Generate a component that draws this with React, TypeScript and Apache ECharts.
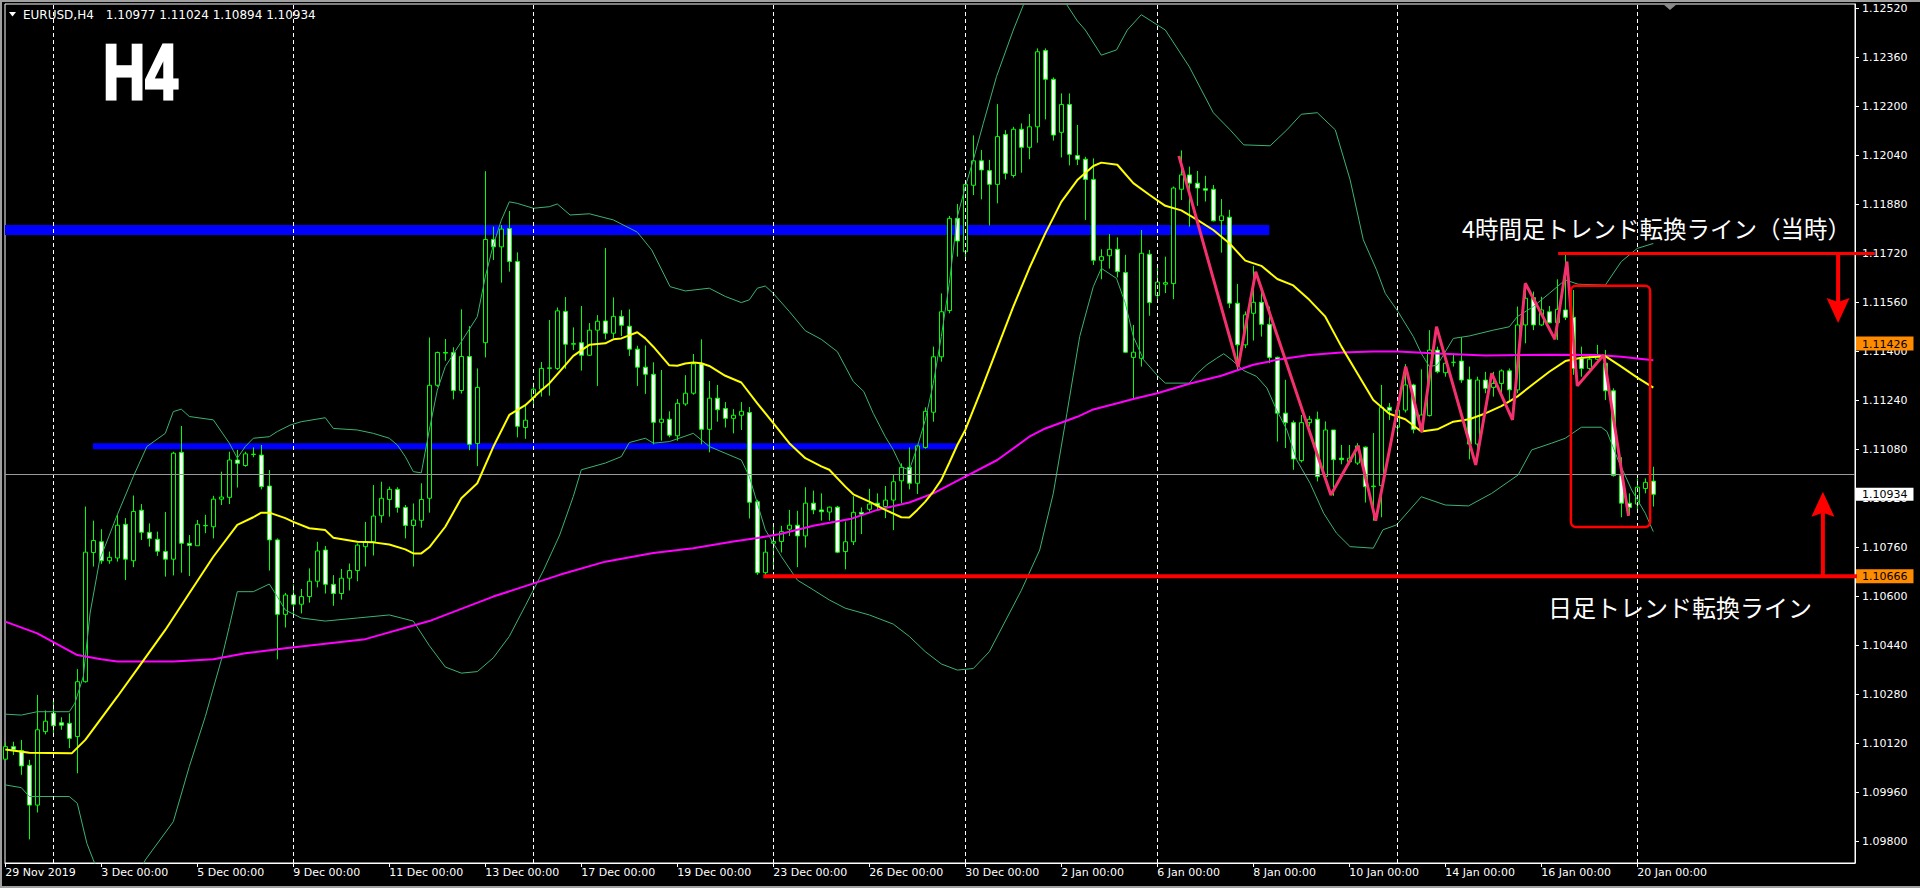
import { useEffect, useRef } from "react";
import * as echarts from "echarts";

// ---------- data ----------
const symbolName = "EURUSD,H4";
const periodTitle = "H4";

const opens = [
  1.10069,1.10110,1.10097,1.10049,1.09919,1.10159,1.10219,1.10188,1.10186,1.10143,
  1.10322,1.10744,1.10779,1.10717,1.10726,1.10836,1.10717,1.10882,1.10810,1.10787,
  1.10747,1.10722,1.11071,1.10774,1.10766,1.10831,1.10828,1.10918,1.10924,1.11046,
  1.11028,1.11064,1.11062,1.10961,1.10785,1.10542,1.10605,1.10575,1.10600,1.10650,
  1.10752,1.10640,1.10610,1.10660,1.10685,1.10763,1.10779,1.10864,1.10917,1.10950,
  1.10891,1.10832,1.10849,1.10921,1.11290,1.11397,1.11397,1.11273,1.11384,1.11100,
  1.11429,1.11766,1.11742,1.11802,1.11694,1.11152,1.11250,1.11277,1.11345,1.11345,
  1.11531,1.11424,1.11429,1.11388,1.11470,1.11500,1.11460,1.11515,1.11483,1.11408,
  1.11349,1.11326,1.11169,1.11179,1.11125,1.11229,1.11264,1.11360,1.11146,1.11248,
  1.11214,1.11182,1.11192,1.11201,1.10910,1.10678,1.10774,1.10780,1.10820,1.10833,
  1.10798,1.10905,1.10883,1.10876,1.10892,1.10747,1.10779,1.10875,1.10885,1.10905,
  1.10894,1.10915,1.10978,1.11022,1.10970,1.11087,1.11202,1.11383,1.11534,1.11835,
  1.11726,1.11943,1.12023,1.11991,1.11946,1.12109,1.11975,1.12126,1.12067,1.12134,
  1.12383,1.12289,1.12116,1.12207,1.12040,1.12028,1.11962,1.11698,1.11713,1.11734,
  1.11658,1.11381,1.11378,1.11718,1.11583,1.11620,1.11622,1.11930,1.11977,1.11950,
  1.11932,1.11930,1.11828,1.11839,1.11558,1.11422,1.11525,1.11561,1.11489,1.11381,
  1.11199,1.11168,1.11044,1.11168,1.11179,1.10992,1.11144,1.11052,1.11040,1.11036,
  1.11088,1.10959,1.10962,1.11218,1.11153,1.11209,1.11291,1.11144,1.11191,1.11405,
  1.11331,1.11365,1.11369,1.11309,1.11098,1.11307,1.11283,1.11296,1.11337,1.11275,
  1.11487,1.11576,1.11487,1.11530,1.11494,1.11536,1.11512,1.11378,1.11345,1.11375,
  1.11362,1.11272,1.10995,1.10905,1.10902,1.10953,1.10977,
];
const highs = [
  1.10123,1.10126,1.10132,1.10067,1.10279,1.10228,1.10257,1.10206,1.10219,1.10363,
  1.10894,1.10848,1.10820,1.10747,1.10867,1.10856,1.10930,1.10902,1.10839,1.10812,
  1.10876,1.11073,1.11157,1.10801,1.10850,1.10867,1.10929,1.11008,1.11073,1.11079,
  1.11073,1.11087,1.11095,1.11013,1.10790,1.10612,1.10640,1.10625,1.10692,1.10779,
  1.10765,1.10670,1.10690,1.10708,1.10774,1.10844,1.10964,1.10975,1.10959,1.10957,
  1.10899,1.10904,1.10970,1.11446,1.11400,1.11441,1.11414,1.11538,1.11483,1.11345,
  1.11989,1.11808,1.11813,1.11859,1.11724,1.11225,1.11299,1.11366,1.11503,1.11544,
  1.11578,1.11479,1.11549,1.11493,1.11519,1.11738,1.11577,1.11535,1.11538,1.11419,
  1.11420,1.11365,1.11340,1.11205,1.11245,1.11323,1.11392,1.11440,1.11304,1.11291,
  1.11235,1.11212,1.11235,1.11219,1.10916,1.10785,1.10831,1.10831,1.10883,1.10880,
  1.10957,1.10946,1.10937,1.10894,1.10896,1.10845,1.10928,1.10891,1.10952,1.10937,
  1.10961,1.10997,1.11035,1.11087,1.11095,1.11218,1.11416,1.11590,1.11843,1.11882,
  1.11955,1.12106,1.12058,1.12026,1.12208,1.12123,1.12134,1.12145,1.12176,1.12390,
  1.12390,1.12295,1.12243,1.12243,1.12140,1.12036,1.12031,1.11734,1.11784,1.11773,
  1.11716,1.11487,1.11797,1.11732,1.11686,1.11710,1.11939,1.12057,1.12004,1.11990,
  1.11974,1.11944,1.11898,1.11863,1.11621,1.11531,1.11680,1.11602,1.11547,1.11384,
  1.11308,1.11175,1.11193,1.11190,1.11204,1.11172,1.11144,1.11095,1.11095,1.11101,
  1.11090,1.11134,1.11291,1.11232,1.11231,1.11359,1.11295,1.11342,1.11470,1.11416,
  1.11394,1.11389,1.11447,1.11351,1.11318,1.11334,1.11334,1.11342,1.11345,1.11547,
  1.11623,1.11596,1.11579,1.11549,1.11636,1.11721,1.11601,1.11416,1.11389,1.11422,
  1.11405,1.11280,1.11055,1.10937,1.10986,1.10986,1.11024,
];
const lows = [
  1.10067,1.10083,1.10018,1.09807,1.09895,1.10150,1.10148,1.10165,1.10105,1.10023,
  1.10319,1.10698,1.10707,1.10707,1.10714,1.10654,1.10696,1.10785,1.10763,1.10733,
  1.10665,1.10669,1.10678,1.10667,1.10766,1.10807,1.10790,1.10899,1.10902,1.10956,
  1.11024,1.11055,1.10950,1.10685,1.10395,1.10499,1.10540,1.10545,1.10580,1.10630,
  1.10610,1.10570,1.10590,1.10620,1.10650,1.10698,1.10734,1.10841,1.10861,1.10874,
  1.10790,1.10698,1.10825,1.10874,1.11285,1.11370,1.11244,1.11263,1.11078,1.11026,
  1.11381,1.11699,1.11625,1.11661,1.11120,1.11115,1.11218,1.11253,1.11256,1.11340,
  1.11344,1.11405,1.11338,1.11386,1.11288,1.11440,1.11444,1.11451,1.11386,1.11288,
  1.11262,1.11097,1.11109,1.11120,1.11109,1.11223,1.11259,1.11097,1.11071,1.11171,
  1.11152,1.11133,1.11144,1.10855,1.10671,1.10666,1.10687,1.10744,1.10798,1.10696,
  1.10760,1.10869,1.10848,1.10848,1.10742,1.10689,1.10768,1.10804,1.10877,1.10883,
  1.10856,1.10817,1.10905,1.10950,1.10935,1.11083,1.11171,1.11367,1.11525,1.11710,
  1.11704,1.11911,1.11897,1.11812,1.11884,1.11962,1.11968,1.11984,1.12028,1.12082,
  1.12158,1.12089,1.12034,1.12008,1.12009,1.11830,1.11683,1.11636,1.11671,1.11642,
  1.11396,1.11248,1.11351,1.11517,1.11569,1.11591,1.11571,1.11895,1.11808,1.11876,
  1.11890,1.11825,1.11723,1.11542,1.11338,1.11411,1.11436,1.11449,1.11362,1.11106,
  1.11085,1.11014,1.11038,1.11155,1.10976,1.10981,1.10929,1.11032,1.11032,1.11030,
  1.10907,1.10848,1.10859,1.11177,1.11120,1.11201,1.11133,1.11139,1.11188,1.11329,
  1.11318,1.11351,1.11298,1.11048,1.11046,1.11264,1.11253,1.11264,1.11242,1.11264,
  1.11427,1.11470,1.11484,1.11492,1.11438,1.11503,1.11324,1.11318,1.11340,1.11367,
  1.11242,1.10992,1.10859,1.10866,1.10885,1.10937,1.10894,
];
const closes = [
  1.10110,1.10101,1.10047,1.09919,1.10165,1.10193,1.10178,1.10180,1.10137,1.10322,
  1.10745,1.10783,1.10717,1.10728,1.10833,1.10722,1.10878,1.10810,1.10790,1.10748,
  1.10722,1.11068,1.10774,1.10767,1.10836,1.10832,1.10918,1.10925,1.11046,1.11035,
  1.11066,1.11065,1.10959,1.10785,1.10542,1.10605,1.10575,1.10600,1.10650,1.10749,
  1.10640,1.10610,1.10660,1.10685,1.10768,1.10779,1.10863,1.10921,1.10950,1.10891,
  1.10832,1.10850,1.10917,1.11290,1.11397,1.11395,1.11273,1.11384,1.11097,1.11283,
  1.11766,1.11742,1.11800,1.11694,1.11156,1.11176,1.11277,1.11345,1.11347,1.11533,
  1.11424,1.11426,1.11388,1.11470,1.11499,1.11460,1.11515,1.11486,1.11408,1.11349,
  1.11326,1.11169,1.11179,1.11127,1.11231,1.11264,1.11360,1.11146,1.11248,1.11210,
  1.11182,1.11192,1.11205,1.10908,1.10678,1.10745,1.10780,1.10812,1.10833,1.10798,
  1.10905,1.10883,1.10877,1.10892,1.10745,1.10779,1.10875,1.10869,1.10902,1.10896,
  1.10915,1.10975,1.11022,1.10970,1.11092,1.11205,1.11383,1.11530,1.11835,1.11761,
  1.11946,1.12023,1.11993,1.11946,1.12102,1.11982,1.12126,1.12067,1.12134,1.12379,
  1.12289,1.12107,1.12207,1.12044,1.12028,1.11962,1.11698,1.11710,1.11734,1.11661,
  1.11398,1.11398,1.11721,1.11560,1.11627,1.11625,1.11934,1.11977,1.11950,1.11934,
  1.11927,1.11827,1.11843,1.11558,1.11422,1.11520,1.11561,1.11489,1.11381,1.11199,
  1.11168,1.11049,1.11168,1.11179,1.10992,1.11144,1.11047,1.11047,1.11052,1.11092,
  1.10959,1.10961,1.11218,1.11208,1.11209,1.11291,1.11146,1.11193,1.11405,1.11334,
  1.11362,1.11365,1.11307,1.11098,1.11307,1.11280,1.11296,1.11337,1.11275,1.11487,
  1.11574,1.11487,1.11536,1.11494,1.11538,1.11512,1.11345,1.11345,1.11375,1.11383,
  1.11272,1.10995,1.10905,1.10891,1.10957,1.10973,1.10934,
];

// Bollinger bands and moving averages: [bar index, price]
const upperBand = [
  [0,1.10216],[2,1.10213],[4,1.10224],[8,1.10224],[8.7,1.10252],[9.75,1.10339],[10.6,1.10546],[11.8,1.10720],
  [14,1.10867],[16,1.10992],[17.7,1.11090],[20,1.11133],[21,1.11204],[22,1.11212],[23,1.11188],[26,1.11177],
  [28,1.11101],[29,1.11052],[30,1.11090],[31,1.11117],[33,1.11122],[34,1.11139],[35.6,1.11160],[37,1.11171],
  [40,1.11184],[41,1.11149],[44,1.11144],[46,1.11133],[48,1.11117],[49,1.11095],[50,1.11057],[51,1.11008],
  [52,1.11004],[53,1.11144],[54,1.11274],[55,1.11351],[57,1.11432],[59,1.11514],[60,1.11644],[61,1.11748],
  [62,1.11829],[63,1.11889],[64,1.11884],[66,1.11868],[68,1.11873],[69,1.11882],[70.6,1.11846],[73,1.11850],
  [76,1.11830],[79,1.11790],[80.8,1.11732],[83.1,1.11612],[85,1.11598],[88,1.11607],[90,1.11580],[92,1.11560],
  [93,1.11569],[94,1.11607],[95,1.11614],[96,1.11590],[98,1.11531],[100,1.11468],[102,1.11440],[104,1.11400],
  [106,1.11302],[107.3,1.11270],[108.5,1.11198],[110,1.11122],[111,1.11079],[112,1.11024],[113,1.11013],
  [114,1.11089],[115,1.11177],[116,1.11296],[117,1.11449],[118,1.11623],[119,1.11840],[120,1.11938],
  [121,1.12026],[122.25,1.12145],[123.9,1.12298],[126,1.12450],[128,1.12580],[130,1.12620],[132,1.12560],
  [134,1.12480],[135,1.12450],[137,1.12368],[138.9,1.12385],[140.25,1.12450],[142,1.12500],[145,1.12450],
  [148,1.12330],[151,1.12180],[153.1,1.12124],[154.8,1.12075],[158.1,1.12072],[160.2,1.12124],[162,1.12175],
  [164,1.12180],[166.25,1.12124],[168.1,1.11961],[169.75,1.11765],[171.4,1.11667],[172.5,1.11590],
  [174.1,1.11530],[176,1.11449],[177,1.11394],[178,1.11351],[179,1.11356],[181,1.11443],[183,1.11451],
  [186,1.11470],[188,1.11481],[189,1.11514],[191,1.11547],[193,1.11590],[195,1.11634],[196.6,1.11620],
  [200,1.11617],[202,1.11694],[204,1.11737],[206,1.11753],
];
const lowerBand = [
  [0,1.09985],[2,1.09976],[3,1.09947],[8,1.09947],[9,1.09925],[10.2,1.09794],[11,1.09740],[12.5,1.09650],
  [14.5,1.09630],[16.5,1.09680],[17.5,1.09740],[21,1.09865],[23,1.10045],[25,1.10208],[27,1.10393],
  [28,1.10502],[29,1.10616],[31,1.10616],[33,1.10641],[34,1.10600],[35,1.10556],[37,1.10530],[40,1.10520],
  [44,1.10530],[48,1.10540],[51,1.10520],[53,1.10440],[55,1.10370],[57,1.10350],[59,1.10355],[61,1.10400],
  [63,1.10470],[65,1.10570],[67.3,1.10687],[69.3,1.10801],[71,1.10927],[72,1.11014],[75,1.11036],
  [77,1.11057],[78,1.11103],[80,1.11117],[81,1.11101],[83,1.11106],[86,1.11133],[88,1.11090],[92,1.11046],
  [93,1.10992],[95,1.10818],[97,1.10731],[99,1.10654],[101,1.10622],[103,1.10589],[105,1.10562],
  [108,1.10540],[111,1.10510],[113,1.10470],[115,1.10420],[117,1.10380],[119,1.10360],[121,1.10365],
  [123,1.10420],[125,1.10520],[127,1.10620],[129.3,1.10752],[131,1.10937],[132.7,1.11198],[134.3,1.11449],
  [135.2,1.11536],[136,1.11612],[137,1.11672],[138.9,1.11639],[140,1.11558],[141,1.11449],[142.3,1.11373],
  [144.1,1.11319],[145,1.11297],[148,1.11297],[149,1.11329],[150.2,1.11357],[151.4,1.11378],[152.3,1.11393],
  [153.3,1.11373],[154.8,1.11338],[156.4,1.11319],[157.7,1.11281],[158.9,1.11210],[160.2,1.11144],
  [161.4,1.11047],[163.1,1.10970],[164.8,1.10872],[166.4,1.10807],[168.1,1.10763],[171,1.10758],
  [172.2,1.10818],[173.9,1.10834],[177,1.10926],[180,1.10899],[182.9,1.10896],[185.8,1.10937],
  [189.1,1.10997],[190.8,1.11079],[193.3,1.11101],[195,1.11117],[197,1.11153],[199.5,1.11153],
  [200.2,1.11139],[201.6,1.11046],[203.3,1.10948],[205,1.10872],[206,1.10812],
];
const middleMA = [
  [0,1.10101],[3,1.10090],[8.3,1.10088],[10,1.10132],[14,1.10273],[17,1.10382],[20,1.10491],[23,1.10611],
  [26,1.10730],[29,1.10834],[31,1.10859],[32,1.10874],[33,1.10874],[35,1.10856],[36,1.10844],[38,1.10823],
  [40,1.10817],[41,1.10792],[44,1.10779],[46,1.10777],[48,1.10770],[50,1.10754],[51,1.10741],[52,1.10741],
  [53,1.10761],[55,1.10828],[57,1.10921],[59,1.10970],[61,1.11089],[63,1.11193],[65,1.11225],[67,1.11274],
  [68,1.11296],[70,1.11356],[71,1.11386],[73,1.11422],[75,1.11427],[76,1.11440],[77,1.11443],[79,1.11463],
  [80,1.11443],[81,1.11416],[83,1.11355],[84,1.11354],[85,1.11361],[86,1.11364],[87,1.11362],[88,1.11353],
  [90,1.11321],[92,1.11299],[94,1.11231],[96,1.11166],[98,1.11101],[100,1.11052],[102,1.11025],[103,1.11014],
  [105,1.10959],[106,1.10934],[108,1.10910],[110,1.10883],[112,1.10859],[113,1.10858],[114,1.10883],
  [115,1.10910],[116,1.10943],[117,1.10981],[118,1.11037],[119,1.11095],[120,1.11144],[122,1.11275],
  [124,1.11411],[126,1.11547],[128,1.11672],[130,1.11786],[132,1.11889],[134,1.11960],[136,1.12006],
  [137,1.12017],[139,1.12010],[141,1.11950],[143,1.11912],[145,1.11876],[147,1.11861],[149,1.11830],
  [151,1.11797],[153,1.11754],[155,1.11697],[157,1.11680],[159,1.11637],[161,1.11616],[163,1.11569],
  [165,1.11514],[167,1.11417],[169,1.11329],[171,1.11242],[173,1.11197],[175,1.11179],[177,1.11139],
  [179,1.11146],[181,1.11171],[183,1.11179],[185,1.11198],[187,1.11222],[189,1.11253],[191,1.11294],
  [193,1.11334],[195,1.11369],[197,1.11380],[199,1.11383],[200,1.11385],[202,1.11351],[204,1.11315],
  [206,1.11282],
];
const longMA = [
  [0,1.10518],[4,1.10480],[9,1.10409],[12,1.10395],[14,1.10388],[21,1.10388],[26,1.10395],[30,1.10415],
  [35,1.10431],[45,1.10461],[53,1.10520],[61,1.10600],[69.3,1.10671],[75,1.10714],[81,1.10742],[86,1.10758],
  [91,1.10780],[94,1.10791],[97,1.10805],[101,1.10831],[105.6,1.10853],[109,1.10883],[113,1.10907],
  [116,1.10937],[120,1.10992],[124,1.11046],[128,1.11122],[130,1.11149],[134,1.11187],[136,1.11211],
  [139,1.11231],[141,1.11245],[144,1.11264],[148,1.11295],[152,1.11321],[156,1.11357],[159,1.11373],
  [163,1.11389],[167,1.11397],[171,1.11400],[174,1.11400],[179,1.11394],[185,1.11387],[193,1.11390],
  [199,1.11389],[202,1.11383],[206,1.11372],
];
const zigzag = [
  [146.7,1.12039],[154.1,1.11349],[156.3,1.11661],[165.7,1.10932],[169.1,1.11092],[171.3,1.10848],
  [175.05,1.11351],[177.05,1.11138],[178.9,1.11481],[183.8,1.11030],[185.8,1.11329],[188.4,1.11177],
  [190,1.11623],[193.7,1.11440],[195.2,1.11694],[196.5,1.11288],[199.8,1.11389],[202.9,1.10863],
];

// horizontal zones / levels
const upperBlueLine = [[-0.0375, 1.11797], [158, 1.11797]];
const lowerBlueLine = [[10.96, 1.11091], [119, 1.11091]];
const dailyTrendLine = [[94.75, 1.10666], [231.5, 1.10666]];
const h4TrendLine = [[194.1, 1.1172], [233.7, 1.1172]];
const focusBox = [[195.7, 1.11615, 205.6, 1.10827]];
const arrows = [
  [229.1, 1.1172, 1.11493],
  [227.2, 1.10666, 1.10942],
];
const orangeLevels = [1.11426, 1.10666];
const bidLevel = 1.10934;
const priceBoxes = [1.11426, 1.10666, 1.10934];

// axes
const priceTicks = [
  1.098, 1.0996, 1.1012, 1.1028, 1.1044, 1.106, 1.1076, 1.1092, 1.1108,
  1.1124, 1.114, 1.1156, 1.1172, 1.1188, 1.1204, 1.122, 1.1236, 1.1252,
];
const timeTickIndex = [0, 12, 24, 36, 48, 60, 72, 84, 96, 108, 120, 132, 144, 156, 168, 180, 192, 204];
const timeTickLabels = [
  "29 Nov 2019", "3 Dec 00:00", "5 Dec 00:00", "9 Dec 00:00", "11 Dec 00:00", "13 Dec 00:00",
  "17 Dec 00:00", "19 Dec 00:00", "23 Dec 00:00", "26 Dec 00:00", "30 Dec 00:00", "2 Jan 00:00",
  "6 Jan 00:00", "8 Jan 00:00", "10 Jan 00:00", "14 Jan 00:00", "16 Jan 00:00", "20 Jan 00:00",
];
const weekStartIndex = [6, 36, 66, 96, 120, 144, 174, 204];

const h4LineLabel = "4時間足トレンド転換ライン（当時）";
const dailyLineLabel = "日足トレンド転換ライン";

// ---------- component ----------
export default function App() {
  const ref = useRef<HTMLDivElement>(null);

  useEffect(() => {
    if (!ref.current) return;
    const chart = echarts.init(ref.current, null, { renderer: "svg" });

    const candleData = opens.map((o, i) => [i, o, closes[i], lows[i], highs[i]]);
    const last = opens.length - 1;
    const header = `${symbolName}\u2002\u2002${opens[last].toFixed(5)} ${highs[last].toFixed(5)} ${lows[last].toFixed(5)} ${closes[last].toFixed(5)}`;

    const yMin = 1.0973;
    const yMax = 1.12535;
    const font = "DejaVu Sans";

    const lineBase = (data: number[][], color: string, width: number, z: number, extra: any = {}) => ({
      type: "line",
      data,
      symbol: "none",
      showSymbol: false,
      silent: true,
      z,
      lineStyle: { color, width },
      emphasis: { disabled: true },
      ...extra,
    });

    const segmentSeries = (seg: number[][], color: string, width: number, z: number) => ({
      type: "custom",
      data: [[seg[0][0], seg[0][1], seg[1][0], seg[1][1]]],
      encode: { x: [0, 2], y: [1, 3] },
      clip: false,
      silent: true,
      z,
      renderItem: (_p: any, api: any) => {
        const a = api.coord([api.value(0), api.value(1)]);
        const b = api.coord([api.value(2), api.value(3)]);
        return {
          type: "line",
          shape: { x1: a[0], y1: a[1], x2: b[0], y2: b[1] },
          style: { stroke: color, lineWidth: width },
        };
      },
    });

    const option: any = {
      animation: false,
      backgroundColor: "#000",
      grid: {
        left: 5, top: 4, width: 1850, height: 859,
        show: true, borderColor: "#fff", borderWidth: 1, backgroundColor: "#000",
      },
      xAxis: [{
        type: "value",
        min: -0.0375,
        max: 231.2125,
        axisLine: { show: true, onZero: false, lineStyle: { color: "#fff", width: 1 } },
        axisTick: { show: true, customValues: timeTickIndex, length: 4, lineStyle: { color: "#fff" } },
        axisLabel: {
          show: true,
          customValues: timeTickIndex,
          formatter: (v: number) => {
            const k = timeTickIndex.indexOf(Math.round(v));
            return k >= 0 ? timeTickLabels[k] : "";
          },
          color: "#fff", fontFamily: font, fontSize: 11, margin: 4, align: "left",
        },
        splitLine: { show: false },
      }],
      yAxis: [
        {
          type: "value",
          position: "right",
          min: yMin,
          max: yMax,
          axisLine: { show: true, onZero: false, lineStyle: { color: "#fff" } },
          axisTick: { show: true, customValues: priceTicks, length: 4, lineStyle: { color: "#fff" } },
          axisLabel: {
            customValues: priceTicks,
            formatter: (v: number) => v.toFixed(5),
            color: "#fff", fontFamily: font, fontSize: 11, margin: 7,
          },
          splitLine: { show: false },
        },
        {
          type: "value",
          position: "right",
          min: yMin,
          max: yMax,
          axisLine: { show: false },
          axisTick: { show: false },
          splitLine: { show: false },
          axisLabel: {
            customValues: priceBoxes,
            margin: 1,
            formatter: (v: number) =>
              Math.abs(v - bidLevel) < 1e-7 ? `{w|${v.toFixed(5)}}` : `{o|${v.toFixed(5)}}`,
            rich: {
              o: { backgroundColor: "#FF8C00", color: "#000", fontFamily: font, fontSize: 11, padding: [2, 6, 1, 6] },
              w: { backgroundColor: "#fff", color: "#000", fontFamily: font, fontSize: 11, padding: [1, 6, 1, 6] },
            },
          },
        },
      ],
      series: [
        {
          type: "line",
          data: [],
          silent: true,
          z: 1,
          markLine: {
            silent: true,
            symbol: ["none", "none"],
            label: { show: false },
            emphasis: { disabled: true },
            data: [
              ...weekStartIndex.map((x) => ({ xAxis: x, lineStyle: { color: "#fff", type: [4, 3], width: 1 } })),
              ...orangeLevels.map((y) => ({ yAxis: y, lineStyle: { color: "#FF8C00", type: "solid", width: 1 } })),
              { yAxis: bidLevel, lineStyle: { color: "#9a9a9a", type: "solid", width: 1 } },
            ],
          },
        },
        lineBase(upperBlueLine, "#0000FF", 10, 2),
        lineBase(lowerBlueLine, "#0000FF", 6, 2),
        {
          type: "candlestick",
          data: candleData,
          encode: { x: 0, y: [1, 2, 3, 4] },
          barWidth: 4,
          silent: true,
          z: 3,
          itemStyle: {
            color: "#000",
            color0: "#fff",
            borderColor: "#00FF00",
            borderColor0: "#00FF00",
            borderColorDoji: "#00FF00",
            borderWidth: 1,
          },
        },
        lineBase(upperBand, "#3CB371", 1, 4),
        lineBase(lowerBand, "#3CB371", 1, 4),
        lineBase(longMA, "#FF00FF", 2, 5),
        lineBase(middleMA, "#FFFF00", 2, 5),
        lineBase(zigzag, "#F4306D", 3, 6),
        lineBase(dailyTrendLine, "#FF0000", 4, 6),
        segmentSeries(h4TrendLine, "#FF0000", 3, 8),
        {
          type: "custom",
          data: focusBox,
          encode: { x: [0, 2], y: [1, 3] },
          silent: true,
          z: 7,
          renderItem: (_p: any, api: any) => {
            const a = api.coord([api.value(0), api.value(1)]);
            const b = api.coord([api.value(2), api.value(3)]);
            return {
              type: "rect",
              shape: { x: a[0], y: a[1], width: b[0] - a[0], height: b[1] - a[1], r: 5 },
              style: { fill: "none", stroke: "#FF0000", lineWidth: 2.5 },
            };
          },
        },
        {
          type: "custom",
          data: arrows,
          encode: { x: 0, y: [1, 2] },
          silent: true,
          clip: false,
          z: 7,
          renderItem: (_p: any, api: any) => {
            const x = api.value(0);
            const p0 = api.coord([x, api.value(1)]);
            const p1 = api.coord([x, api.value(2)]);
            const dir = p1[1] > p0[1] ? 1 : -1;
            const headLen = 25;
            const half = 11.5;
            const notch = 4;
            const baseY = p1[1] - dir * headLen;
            return {
              type: "group",
              children: [
                {
                  type: "line",
                  shape: { x1: p0[0], y1: p0[1], x2: p0[0], y2: baseY + dir * notch },
                  style: { stroke: "#FF0000", lineWidth: 4 },
                },
                {
                  type: "polygon",
                  shape: {
                    points: [
                      [p1[0], p1[1]],
                      [p1[0] + half, baseY],
                      [p1[0], baseY + dir * notch],
                      [p1[0] - half, baseY],
                    ],
                  },
                  style: { fill: "#FF0000" },
                },
              ],
            };
          },
        },
      ],
      graphic: [
        { type: "rect", shape: { x: 0, y: 0, width: 1920, height: 2 }, style: { fill: "#a0a0a0" }, silent: true },
        { type: "rect", shape: { x: 0, y: 0, width: 2, height: 888 }, style: { fill: "#a0a0a0" }, silent: true },
        { type: "rect", shape: { x: 0, y: 886, width: 1920, height: 2 }, style: { fill: "#a0a0a0" }, silent: true },
        {
          type: "polygon",
          shape: { points: [[9, 12], [16, 12], [12.5, 16.5]] },
          style: { fill: "#fff" },
          silent: true,
        },
        {
          type: "polygon",
          shape: { points: [[1663, 4], [1677, 4], [1670, 10]] },
          style: { fill: "#8a8a8a" },
          silent: true,
        },
        {
          type: "text",
          x: 23,
          y: 15,
          silent: true,
          style: {
            text: header, fill: "#fff", fontFamily: font, fontSize: 12,
            align: "left", verticalAlign: "middle", textAlign: "left", textVerticalAlign: "middle",
          },
        },
        {
          type: "text",
          x: 103,
          y: 72,
          scaleX: 0.75,
          silent: true,
          style: {
            text: periodTitle, fill: "#fff", stroke: "#fff", lineWidth: 3,
            fontFamily: "Liberation Sans", fontWeight: "bold", fontSize: 78,
            align: "left", verticalAlign: "middle", textAlign: "left", textVerticalAlign: "middle",
          },
        },
        {
          type: "text",
          x: 1462,
          y: 228,
          silent: true,
          z: 100,
          style: {
            text: h4LineLabel, fill: "#fff", fontFamily: "Noto Sans CJK JP", fontSize: 23.5,
            align: "left", verticalAlign: "middle", textAlign: "left", textVerticalAlign: "middle",
          },
        },
        {
          type: "text",
          x: 1548,
          y: 606,
          silent: true,
          z: 100,
          style: {
            text: dailyLineLabel, fill: "#fff", fontFamily: "Noto Sans CJK JP", fontSize: 24,
            align: "left", verticalAlign: "middle", textAlign: "left", textVerticalAlign: "middle",
          },
        },
      ],
    };

    chart.setOption(option);
    return () => chart.dispose();
  }, []);

  return (
    <div
      ref={ref}
      style={{ position: "absolute", left: 0, top: 0, width: 1920, height: 888, background: "#000" }}
    />
  );
}
